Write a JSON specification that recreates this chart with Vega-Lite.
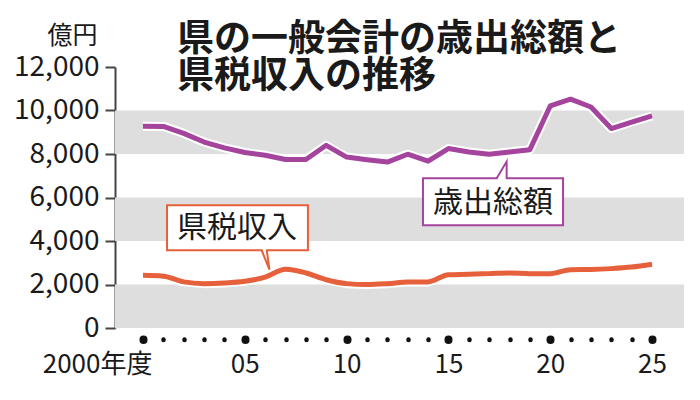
{
  "$schema": "https://vega.github.io/schema/vega-lite/v6.json",
  "autosize": {"type": "none"},
  "padding": {"left": 115, "top": 67, "right": 16, "bottom": 72},
  "width": 569,
  "height": 261,
  "background": "#ffffff",
  "title": {
    "text": ["県の一般会計の歳出総額と", "県税収入の推移"],
    "anchor": "start",
    "frame": "group",
    "font": "Noto Sans CJK JP",
    "fontSize": 37,
    "fontWeight": "bold",
    "lineHeight": 37,
    "color": "#1a1a1a",
    "offset": 0,
    "dx": 62,
    "dy": 73
  },
  "config": {
    "view": {"stroke": null},
    "font": "Noto Sans CJK JP",
    "axis": {"labelFont": "Noto Sans CJK JP", "titleFont": "Noto Sans CJK JP"}
  },
  "datasets": {
    "series": [
      {"year": 2000, "item": "歳出総額", "value": 9280},
      {"year": 2001, "item": "歳出総額", "value": 9270},
      {"year": 2002, "item": "歳出総額", "value": 8950},
      {"year": 2003, "item": "歳出総額", "value": 8550},
      {"year": 2004, "item": "歳出総額", "value": 8280},
      {"year": 2005, "item": "歳出総額", "value": 8070},
      {"year": 2006, "item": "歳出総額", "value": 7940},
      {"year": 2007, "item": "歳出総額", "value": 7750},
      {"year": 2008, "item": "歳出総額", "value": 7750},
      {"year": 2009, "item": "歳出総額", "value": 8400},
      {"year": 2010, "item": "歳出総額", "value": 7860},
      {"year": 2011, "item": "歳出総額", "value": 7740},
      {"year": 2012, "item": "歳出総額", "value": 7630},
      {"year": 2013, "item": "歳出総額", "value": 7990},
      {"year": 2014, "item": "歳出総額", "value": 7670},
      {"year": 2015, "item": "歳出総額", "value": 8250},
      {"year": 2016, "item": "歳出総額", "value": 8090},
      {"year": 2017, "item": "歳出総額", "value": 7990},
      {"year": 2018, "item": "歳出総額", "value": 8090},
      {"year": 2019, "item": "歳出総額", "value": 8200},
      {"year": 2020, "item": "歳出総額", "value": 10210},
      {"year": 2021, "item": "歳出総額", "value": 10520},
      {"year": 2022, "item": "歳出総額", "value": 10160},
      {"year": 2023, "item": "歳出総額", "value": 9170},
      {"year": 2024, "item": "歳出総額", "value": 9470},
      {"year": 2025, "item": "歳出総額", "value": 9750},
      {"year": 2000, "item": "県税収入", "value": 2420},
      {"year": 2001, "item": "県税収入", "value": 2380},
      {"year": 2002, "item": "県税収入", "value": 2120},
      {"year": 2003, "item": "県税収入", "value": 2040},
      {"year": 2004, "item": "県税収入", "value": 2070},
      {"year": 2005, "item": "県税収入", "value": 2150},
      {"year": 2006, "item": "県税収入", "value": 2340},
      {"year": 2007, "item": "県税収入", "value": 2700},
      {"year": 2008, "item": "県税収入", "value": 2530},
      {"year": 2009, "item": "県税収入", "value": 2220},
      {"year": 2010, "item": "県税収入", "value": 2040},
      {"year": 2011, "item": "県税収入", "value": 2000},
      {"year": 2012, "item": "県税収入", "value": 2040},
      {"year": 2013, "item": "県税収入", "value": 2110},
      {"year": 2014, "item": "県税収入", "value": 2120},
      {"year": 2015, "item": "県税収入", "value": 2450},
      {"year": 2016, "item": "県税収入", "value": 2470},
      {"year": 2017, "item": "県税収入", "value": 2500},
      {"year": 2018, "item": "県税収入", "value": 2530},
      {"year": 2019, "item": "県税収入", "value": 2500},
      {"year": 2020, "item": "県税収入", "value": 2500},
      {"year": 2021, "item": "県税収入", "value": 2680},
      {"year": 2022, "item": "県税収入", "value": 2690},
      {"year": 2023, "item": "県税収入", "value": 2730},
      {"year": 2024, "item": "県税収入", "value": 2800},
      {"year": 2025, "item": "県税収入", "value": 2930}
    ],
    "bands": [
      {"lo": 0, "hi": 2000},
      {"lo": 4000, "hi": 6000},
      {"lo": 8000, "hi": 10000}
    ],
    "callouts": [
      {"item": "歳出総額", "x1": 2013.75, "x2": 2020.63, "y1": 4720, "y2": 6880, "tx": 2017.19, "ty": 5760},
      {"item": "県税収入", "x1": 2001.18, "x2": 2008.1, "y1": 3570, "y2": 5640, "tx": 2004.62, "ty": 4590}
    ],
    "pointers": [
      {"item": "歳出総額", "k": 1, "px": 2017.37, "py": 6880},
      {"item": "歳出総額", "k": 2, "px": 2017.86, "py": 7650},
      {"item": "歳出総額", "k": 3, "px": 2017.86, "py": 6880},
      {"item": "県税収入", "k": 1, "px": 2005.83, "py": 3570},
      {"item": "県税収入", "k": 2, "px": 2006.21, "py": 2680},
      {"item": "県税収入", "k": 3, "px": 2006.08, "py": 3570}
    ],
    "gaps": [
      {"item": "歳出総額", "gx": 2017.42, "gx2": 2017.82, "gy": 6880},
      {"item": "県税収入", "gx": 2005.88, "gx2": 2006.04, "gy": 3570}
    ]
  },
  "layer": [
    {
      "data": {"name": "series"},
      "mark": {"type": "line", "strokeOpacity": 0},
      "encoding": {
        "x": {
          "field": "year",
          "type": "quantitative",
          "scale": {"domain": [1998.625, 2026.57], "nice": false, "zero": false},
          "axis": {
            "title": null,
            "values": [2000, 2001, 2002, 2003, 2004, 2005, 2006, 2007, 2008, 2009, 2010, 2011, 2012, 2013, 2014, 2015, 2016, 2017, 2018, 2019, 2020, 2021, 2022, 2023, 2024, 2025],
            "tickCount": 30,
            "domain": false,
            "grid": false,
            "offset": 11,
            "tickCap": "round",
            "tickColor": "#111111",
            "tickSize": 0.5,
            "tickWidth": {"condition": {"test": "datum.value % 5 == 0", "value": 8}, "value": 4.5},
            "labelExpr": "datum.value == 2000 ? '2000年度' : (datum.value % 5 == 0 ? (datum.value - 2000 < 10 ? '0' : '') + (datum.value - 2000) : '')",
            "labelAlign": {"condition": {"test": "datum.value == 2000", "value": "right"}, "value": "center"},
            "labelOffset": {"condition": {"test": "datum.value == 2000", "value": 9}, "value": 0},
            "labelOverlap": false,
            "labelBound": false,
            "labelFlush": false,
            "labelFontSize": 26,
            "labelColor": "#1a1a1a",
            "labelPadding": 12
          }
        },
        "y": {
          "field": "value",
          "type": "quantitative",
          "scale": {"domain": [0, 12000], "nice": false},
          "axis": {
            "title": "億円",
            "titleAngle": 0,
            "titleAlign": "right",
            "titleBaseline": "alphabetic",
            "titleX": -18,
            "titleY": -24,
            "titleFontSize": 25,
            "titleFontWeight": "normal",
            "titleColor": "#1a1a1a",
            "values": [0, 2000, 4000, 6000, 8000, 10000, 12000],
            "format": ",d",
            "grid": false,
            "domainColor": "#444444",
            "domainWidth": 2,
            "tickColor": "#444444",
            "tickWidth": 2,
            "tickSize": 10,
            "labelFontSize": 28,
            "labelColor": "#1a1a1a",
            "labelPadding": 6
          }
        },
        "detail": {"field": "item"}
      }
    },
    {
      "data": {"name": "bands"},
      "mark": {"type": "rect", "color": "#dedede"},
      "encoding": {
        "y": {"field": "lo", "type": "quantitative"},
        "y2": {"field": "hi"}
      }
    },
    {
      "data": {"name": "series"},
      "mark": {"type": "line", "color": "#ffffff", "strokeWidth": 9, "strokeJoin": "round"},
      "encoding": {
        "x": {"field": "year", "type": "quantitative"},
        "y": {"field": "value", "type": "quantitative"},
        "detail": {"field": "item"}
      }
    },
    {
      "data": {"name": "series"},
      "transform": [{"filter": "datum.item == '歳出総額'"}],
      "mark": {"type": "line", "color": "#a5449d", "strokeWidth": 5, "strokeJoin": "round"},
      "encoding": {
        "x": {"field": "year", "type": "quantitative"},
        "y": {"field": "value", "type": "quantitative"}
      }
    },
    {
      "data": {"name": "series"},
      "transform": [{"filter": "datum.item == '県税収入'"}],
      "mark": {"type": "line", "color": "#e5603b", "strokeWidth": 5, "interpolate": "monotone"},
      "encoding": {
        "x": {"field": "year", "type": "quantitative"},
        "y": {"field": "value", "type": "quantitative"}
      }
    },
    {
      "data": {"name": "callouts"},
      "mark": {"type": "rect", "fill": "#ffffff", "strokeWidth": 2},
      "encoding": {
        "x": {"field": "x1", "type": "quantitative"},
        "x2": {"field": "x2"},
        "y": {"field": "y1", "type": "quantitative"},
        "y2": {"field": "y2"},
        "stroke": {
          "field": "item",
          "type": "nominal",
          "scale": {"domain": ["歳出総額", "県税収入"], "range": ["#a5449d", "#e5603b"]},
          "legend": null
        }
      }
    },
    {
      "data": {"name": "gaps"},
      "mark": {"type": "rule", "color": "#ffffff", "strokeWidth": 3},
      "encoding": {
        "x": {"field": "gx", "type": "quantitative"},
        "x2": {"field": "gx2"},
        "y": {"field": "gy", "type": "quantitative"}
      }
    },
    {
      "data": {"name": "pointers"},
      "mark": {"type": "line", "strokeWidth": 2},
      "encoding": {
        "x": {"field": "px", "type": "quantitative"},
        "y": {"field": "py", "type": "quantitative"},
        "order": {"field": "k"},
        "color": {
          "field": "item",
          "type": "nominal",
          "scale": {"domain": ["歳出総額", "県税収入"], "range": ["#a5449d", "#e5603b"]},
          "legend": null
        }
      }
    },
    {
      "data": {"name": "callouts"},
      "mark": {"type": "text", "fontSize": 30, "color": "#1a1a1a", "align": "center", "baseline": "middle"},
      "encoding": {
        "x": {"field": "tx", "type": "quantitative"},
        "y": {"field": "ty", "type": "quantitative"},
        "text": {"field": "item"}
      }
    }
  ]
}
